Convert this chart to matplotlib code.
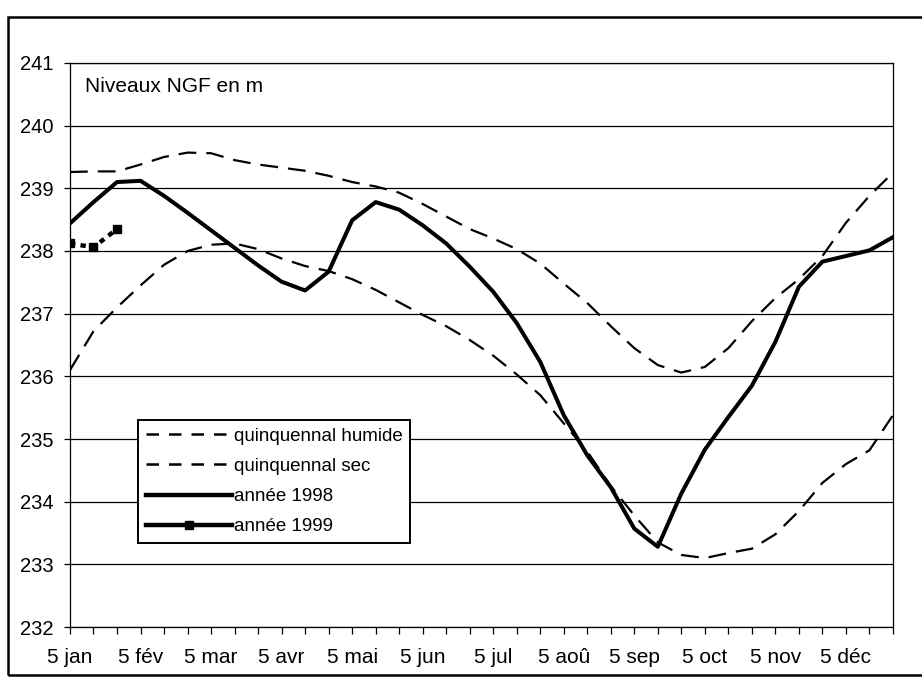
import matplotlib.pyplot as plt
from matplotlib.lines import Line2D
from matplotlib.patches import Rectangle

plt.rcParams["font.family"] = ["Liberation Sans", "DejaVu Sans"]

# dekads from 5 jan to 25 dec (36 points)
mois = ["jan", "fév", "mar", "avr", "mai", "jun",
        "jul", "aoû", "sep", "oct", "nov", "déc"]

humide = [239.26, 239.27, 239.27, 239.38, 239.50, 239.57, 239.56, 239.45, 239.38,
          239.33, 239.28, 239.20, 239.10, 239.03, 238.93, 238.75, 238.55, 238.35,
          238.20, 238.03, 237.80, 237.48, 237.17, 236.80, 236.45, 236.18, 236.06,
          236.15, 236.45, 236.88, 237.25, 237.55, 237.92, 238.45, 238.88, 239.25]

sec = [236.10, 236.72, 237.10, 237.45, 237.78, 238.00, 238.10, 238.12, 238.03,
       237.88, 237.76, 237.68, 237.55, 237.38, 237.18, 236.98, 236.80, 236.58,
       236.33, 236.03, 235.70, 235.25, 234.80, 234.25, 233.78, 233.35, 233.15,
       233.10, 233.18, 233.25, 233.48, 233.85, 234.30, 234.60, 234.82, 235.38]

annee_1998 = [238.44, 238.78, 239.10, 239.12, 238.88, 238.61, 238.33, 238.05, 237.77,
              237.51, 237.37, 237.67, 238.49, 238.78, 238.66, 238.41, 238.12, 237.75,
              237.35, 236.85, 236.23, 235.38, 234.74, 234.23, 233.57, 233.28, 234.13,
              234.83, 235.35, 235.85, 236.55, 237.43, 237.83, 237.92, 238.01, 238.22]

annee_1999 = [238.12, 238.06, 238.35]

x = list(range(len(humide)))
x99 = list(range(len(annee_1999)))

fig = plt.figure(figsize=(9.22, 6.78), dpi=100)
ax = fig.add_axes([0.0759, 0.0752, 0.8926, 0.8319])

ax.plot(x, humide, color="black", lw=1.6, ls=(0, (8, 4.5)))
ax.plot(x, sec, color="black", lw=1.6, ls=(0, (8, 4.5)))
ax.plot(x, annee_1998, color="black", lw=2.9)
ax.plot(x99, annee_1999, color="black", lw=3.2, ls=(0, (1.2, 1.2)),
        marker="s", ms=6)

ax.set_xlim(0, 35)
ax.set_ylim(232, 241)
ax.set_yticks(range(232, 242))
ax.yaxis.grid(True, color="black", lw=0.9)
ax.set_axisbelow(True)

labels = []
for i in x:
    labels.append("5 " + mois[i // 3] if i % 3 == 0 else "")
ax.set_xticks(x)
ax.set_xticklabels(labels, fontsize=15,
                   family=["Liberation Sans Narrow", "Liberation Sans", "DejaVu Sans"])
ax.tick_params(axis="x", direction="out", length=5, width=0.9, pad=10)
ax.tick_params(axis="y", direction="out", length=4, width=0.9, labelsize=14.5, pad=8)
for s in ax.spines.values():
    s.set_linewidth(0.9)

ax.text(0.018, 0.975, "Niveaux NGF en m", transform=ax.transAxes,
        fontsize=15, va="top", ha="left")

handles = [
    Line2D([], [], color="black", lw=1.8, ls=(0, (5, 4))),
    Line2D([], [], color="black", lw=1.8, ls=(0, (5, 4))),
    Line2D([], [], color="black", lw=3.2),
    Line2D([], [], color="black", lw=3.2, marker="s", ms=6),
]
noms = ["quinquennal humide", "quinquennal sec", "année 1998", "année 1999"]
leg = ax.legend(handles, noms, loc="lower left", bbox_to_anchor=(0.083, 0.149),
                borderaxespad=0, fontsize=13.5, handlelength=4.6, handletextpad=0.1,
                labelspacing=0.7, borderpad=0.4, fancybox=False, framealpha=1,
                edgecolor="black")
leg.get_frame().set_linewidth(1.4)

# outer frame of the scanned chart
fig.patches.append(Rectangle((0.009, 0.004), 1.1, 0.971, transform=fig.transFigure,
                             fill=False, edgecolor="black", lw=1.8))

fig.savefig("out.png", dpi=100)
